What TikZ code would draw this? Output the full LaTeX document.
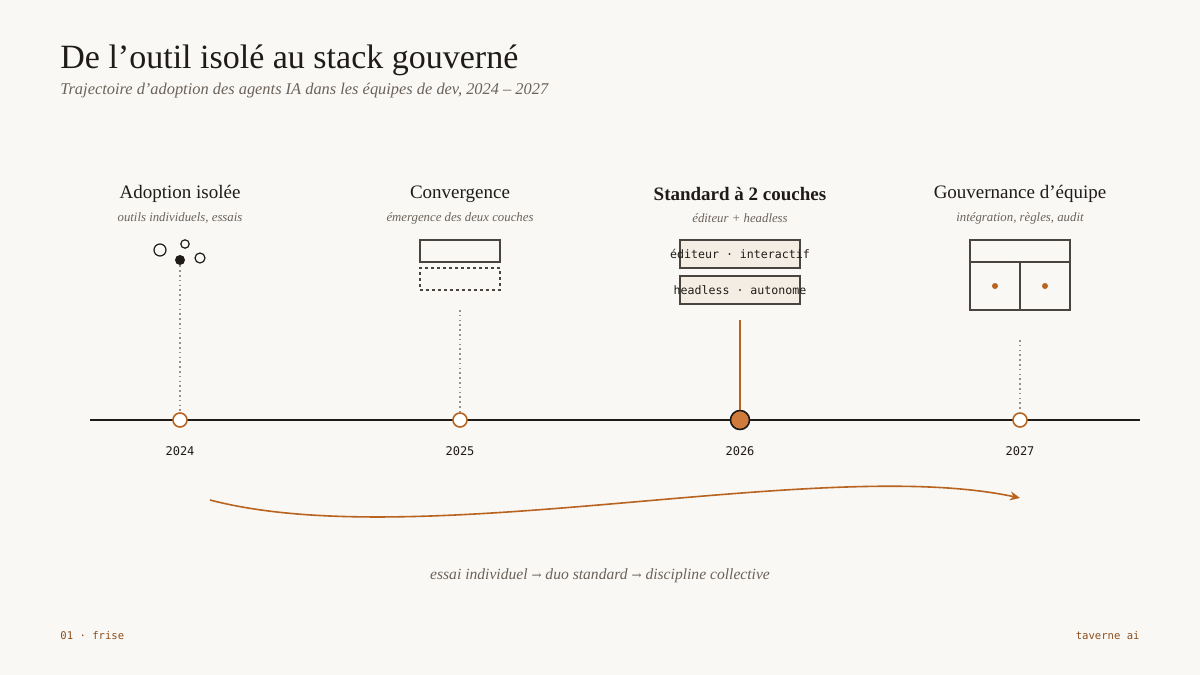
\documentclass[tikz,border=0pt]{standalone}
\usepackage{fontspec}
\setmainfont{Liberation Serif}
\setmonofont{DejaVu Sans Mono}
\newfontfamily\arr{DejaVu Serif}
\usetikzlibrary{arrows.meta}
\definecolor{bg}{HTML}{FAF8F4}
\definecolor{ink}{HTML}{1E1B18}
\definecolor{gry}{HTML}{6B625A}
\definecolor{orn}{HTML}{B8631F}
\definecolor{orf}{HTML}{D07A3C}
\definecolor{boxf}{HTML}{F4EDE3}
\definecolor{edge}{HTML}{4A4440}
\begin{document}
\begin{tikzpicture}[x=0.5pt,y=-0.5pt,
  head/.style={font=\fontsize{9.5}{10}\selectfont,text=ink},
  sub/.style={font=\fontsize{6.4}{7}\selectfont\itshape,text=gry},
  yr/.style={font=\ttfamily\fontsize{6}{7}\selectfont,text=ink},
  mk/.style={circle,draw=orn,line width=0.8pt,fill=white,minimum size=7pt,inner sep=0},
  dotl/.style={gry!70,line width=0.6pt,dash pattern=on 0.8pt off 1.6pt},
  shp/.style={draw=edge,line width=0.7pt}]
\fill[bg] (0,0) rectangle (1200,675);
\useasboundingbox (0,0) rectangle (1200,675);
\node[anchor=west,inner sep=0,font=\fontsize{17}{18}\selectfont,text=ink] (title) at (60,60) {De l’outil isolé au stack gouverné};
\node[anchor=west,inner sep=0,font=\fontsize{8.2}{9}\selectfont\itshape,text=gry] (subt) at (60,91) {Trajectoire d’adoption des agents IA dans les équipes de dev, 2024 – 2027};
% headings
\node[head] (h1) at (180,194) {Adoption isolée};
\node[sub] (s1) at (180,218) {outils individuels, essais};
\node[head] (h2) at (460,194) {Convergence};
\node[sub] (s2) at (460,218) {émergence des deux couches};
\node[head,font=\fontsize{9.5}{10}\selectfont\bfseries] (h3) at (740,194) {Standard à 2 couches};
\node[sub] (s3) at (740,218) {éditeur + headless};
\node[head] (h4) at (1020,194) {Gouvernance d’équipe};
\node[sub] (s4) at (1020,218) {intégration, règles, audit};
% timeline
\coordinate (tl) at (90,420); \coordinate (tr) at (1140,420);
\draw[ink,line width=0.7pt] (tl) -- (tr);
% 2024 glyph
\node[circle,draw=ink,line width=0.6pt,minimum size=6pt,inner sep=0] (c1) at (160,250) {};
\node[circle,draw=ink,line width=0.6pt,minimum size=4.2pt,inner sep=0] (c2) at (185,244) {};
\node[circle,fill=ink,minimum size=5pt,inner sep=0] (c3) at (180,260) {};
\node[circle,draw=ink,line width=0.6pt,minimum size=5pt,inner sep=0] (c4) at (200,258) {};
% 2025 glyph
\node[shp,minimum width=40pt,minimum height=11pt,inner sep=0] (b1) at (460,251) {};
\node[shp,dash pattern=on 1.5pt off 1.5pt,minimum width=40pt,minimum height=11pt,inner sep=0] (b2) at (460,279) {};
% 2026 glyph
\node[shp,fill=boxf,minimum width=60pt,minimum height=14pt,inner sep=0] (b3) at (740,254) {};
\node[font=\ttfamily\fontsize{5.8}{7}\selectfont,text=ink] at (b3) {éditeur · interactif};
\node[shp,fill=boxf,minimum width=60pt,minimum height=14pt,inner sep=0] (b4) at (740,290) {};
\node[font=\ttfamily\fontsize{5.8}{7}\selectfont,text=ink] at (b4) {headless · autonome};
% 2027 glyph
\node[shp,minimum width=50pt,minimum height=35pt,inner sep=0] (g) at (1020,275) {};
\draw[shp] (970,262) -- (1070,262);
\draw[shp] (1020,262) -- (g.south);
\fill[orn] (995,286) circle (1.5pt) (1045,286) circle (1.5pt);
% markers
\node[mk] (m1) at (180,420) {};
\node[mk] (m2) at (460,420) {};
\node[circle,draw=ink,line width=0.8pt,fill=orf,minimum size=9.5pt,inner sep=0] (m3) at (740,420) {};
\node[mk] (m4) at (1020,420) {};
\draw[dotl] (c3) -- (m1);
\coordinate (d2) at (460,310); \draw[dotl] (d2) -- (m2);
\coordinate (d3) at (740,320); \draw[orn,line width=0.7pt] (d3) -- (m3);
\coordinate (d4) at (1020,340); \draw[dotl] (d4) -- (m4);
\node[yr] at (180,451) {2024};
\node[yr] at (460,451) {2025};
\node[yr] at (740,451) {2026};
\node[yr] at (1020,451) {2027};
% curve
\coordinate (a0) at (210,500); \coordinate (a1) at (1020,498);
\draw[orn,line width=0.8pt,-{Stealth[length=5pt,width=4.5pt]}] (a0) .. controls (420,555) and (820,455) .. (a1);
\node[font=\fontsize{7.8}{9}\selectfont\itshape,text=gry] (cap) at (600,576) {essai individuel {\arr\upshape\fontsize{6}{7}\selectfont →} duo standard {\arr\upshape\fontsize{6}{7}\selectfont →} discipline collective};
\node[anchor=west,inner sep=0,font=\ttfamily\fontsize{5.3}{6}\selectfont,text=orn!70!ink] (f1) at (60,636) {01 · frise};
\node[anchor=east,inner sep=0,font=\ttfamily\fontsize{5.3}{6}\selectfont,text=orn!70!ink] (f2) at (1140,636) {taverne ai};
\end{tikzpicture}
\end{document}
